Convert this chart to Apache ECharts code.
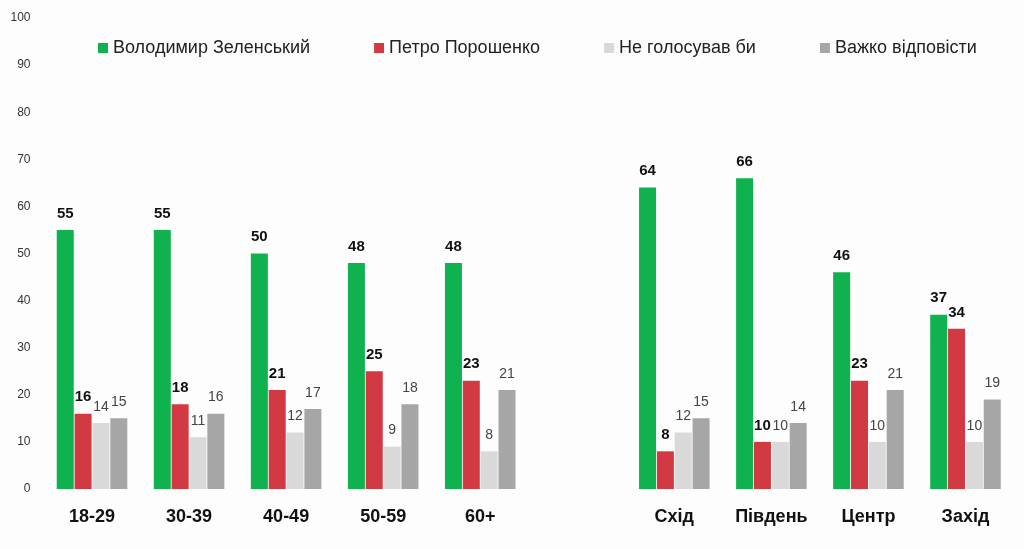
<!DOCTYPE html>
<html>
<head>
<meta charset="utf-8">
<script src="https://cdn.jsdelivr.net/npm/echarts@6/dist/echarts.min.js"></script>
<style>
html,body{margin:0;padding:0;background:#fdfdfd;}
#chart{width:1024px;height:549px;}
</style>
</head>
<body>
<div id="chart"></div>
<script>
const categories = ['18-29', '30-39', '40-49', '50-59', '60+', '', 'Схід', 'Південь', 'Центр', 'Захід'];
const seriesNames = ['Володимир Зеленський', 'Петро Порошенко', 'Не голосував би', 'Важко відповісти'];
const zelensky = [55, 55, 50, 48, 48, '-', 64, 66, 46, 37];
const poroshenko = [16, 18, 21, 25, 23, '-', 8, 10, 23, 34];
const wouldNotVote = [14, 11, 12, 9, 8, '-', 12, 10, 10, 10];
const hardToSay = [15, 16, 17, 18, 21, '-', 15, 14, 21, 19];
const yTicks = [0, 10, 20, 30, 40, 50, 60, 70, 80, 90, 100];

const colors = ['#10b14f', '#d13a43', '#d9d9d9', '#a6a6a6'];
const font = '"Liberation Sans", Arial, sans-serif';

function mk(name, data, color, bold) {
  return {
    name: name,
    type: 'bar',
    data: data,
    barWidth: 17,
    barGap: '5%',
    itemStyle: { color: color },
    label: {
      show: true,
      position: 'top',
      distance: bold ? 9 : 9,
      fontFamily: font,
      fontSize: bold ? 15 : 14,
      fontWeight: bold ? 'bold' : 'normal',
      color: bold ? '#111' : '#444'
    }
  };
}

const chart = echarts.init(document.getElementById('chart'));
chart.setOption({
  backgroundColor: '#fdfdfd',
  animation: false,
  color: colors,
  legend: {
    left: 93,
    top: 34,
    itemWidth: 10,
    itemHeight: 10,
    itemGap: 64,
    icon: 'rect',
    textStyle: { fontFamily: font, fontSize: 18, color: '#222' },
    data: seriesNames
  },
  grid: { left: 43.5, right: 10, top: 18, bottom: 60 },
  xAxis: {
    type: 'category',
    data: categories,
    axisLine: { show: false },
    axisTick: { show: false },
    axisLabel: {
      interval: 0,
      margin: 19,
      fontFamily: font,
      fontSize: 18,
      fontWeight: 'bold',
      color: '#111'
    }
  },
  yAxis: {
    type: 'value',
    min: yTicks[0],
    max: yTicks[yTicks.length - 1],
    interval: 10,
    axisLine: { show: false },
    axisTick: { show: false },
    splitLine: { show: false },
    axisLabel: {
      margin: 13,
      fontFamily: font,
      fontSize: 12,
      color: '#333'
    }
  },
  series: [
    mk(seriesNames[0], zelensky, colors[0], true),
    mk(seriesNames[1], poroshenko, colors[1], true),
    mk(seriesNames[2], wouldNotVote, colors[2], false),
    mk(seriesNames[3], hardToSay, colors[3], false)
  ]
});
</script>
</body>
</html>
